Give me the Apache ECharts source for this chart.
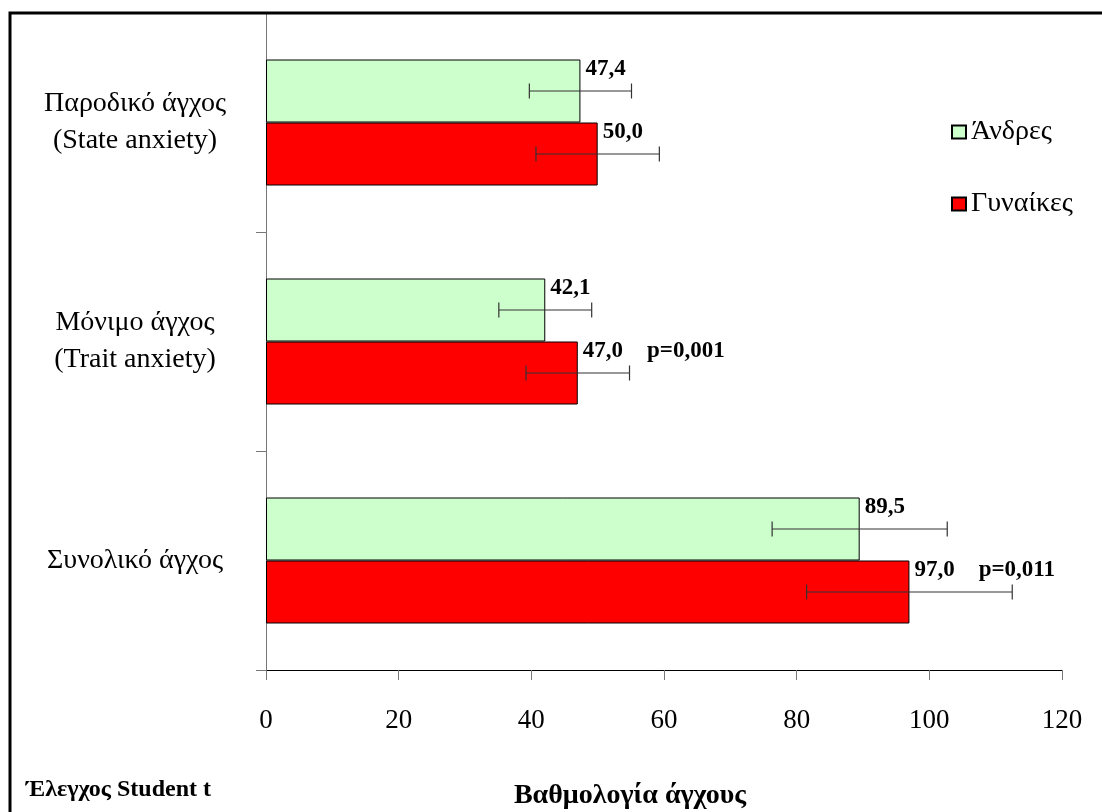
<!DOCTYPE html>
<html>
<head>
<meta charset="utf-8">
<script src="https://cdn.jsdelivr.net/npm/echarts@6/dist/echarts.min.js"></script>
<style>
  html, body { margin: 0; padding: 0; background: #fff; }
  #chart { width: 1102px; height: 812px; }
</style>
</head>
<body>
<div id="chart"></div>
<script>
// Anxiety scores by sex (means with standard deviations)
const categories = ['Παροδικό άγχος\n(State anxiety)', 'Μόνιμο άγχος\n(Trait anxiety)', 'Συνολικό άγχος'];
const seriesNames = ['Άνδρες', 'Γυναίκες'];
const menMeans = [47.4, 42.1, 89.5];
const womenMeans = [50.0, 47.0, 97.0];
const menSD = [7.7, 7.0, 13.2];
const womenSD = [9.3, 7.8, 15.5];
const pValues = ['', '0,001', '0,011'];
const xMin = 0, xMax = 120, xStep = 20;
const xAxisTitle = 'Βαθμολογία άγχους';
const testNote = 'Έλεγχος Student t';

const FONT = 'Liberation Serif';
const BAR_W = 63;

const fmt = v => v.toFixed(1).replace('.', ',');

function errorData(means, sds) {
  return means.map((m, i) => [i, m - sds[i], m + sds[i]]);
}

// Horizontal error bar with end caps, shifted onto its own bar
function errorBar(shift) {
  return function (params, api) {
    const cat = api.value(0);
    const a = api.coord([api.value(1), cat]);
    const b = api.coord([api.value(2), cat]);
    const y = a[1] + shift;
    const cap = 7.5;
    const style = { stroke: '#333', lineWidth: 1.2 };
    return {
      type: 'group',
      children: [
        { type: 'line', shape: { x1: a[0], y1: y, x2: b[0], y2: y }, style },
        { type: 'line', shape: { x1: a[0], y1: y - cap, x2: a[0], y2: y + cap }, style },
        { type: 'line', shape: { x1: b[0], y1: y - cap, x2: b[0], y2: y + cap }, style }
      ]
    };
  };
}

const chart = echarts.init(document.getElementById('chart'));

const VAL_SIZE = 23;
const labelBase = {
  show: true,
  position: 'right',
  distance: 5,
  offset: [0, -22],
  fontFamily: FONT,
  fontWeight: 'bold',
  fontSize: VAL_SIZE,
  color: '#000'
};

chart.setOption({
  backgroundColor: '#fff',
  animation: false,
  textStyle: { fontFamily: FONT },
  grid: { left: 266, right: 40, top: 13, bottom: 142, containLabel: false },
  legend: {
    data: seriesNames,
    orient: 'vertical',
    left: 946,
    top: 113,
    itemWidth: 14,
    itemHeight: 13,
    itemGap: 44,
    icon: 'rect',
    textStyle: { fontFamily: FONT, fontSize: 28, color: '#000' }
  },
  xAxis: {
    type: 'value',
    min: xMin,
    max: xMax,
    interval: xStep,
    splitLine: { show: false },
    axisLine: { show: true, lineStyle: { color: '#000', width: 1 } },
    axisTick: { show: true, length: 10, lineStyle: { color: '#777' } },
    axisLabel: { fontFamily: FONT, fontSize: 27, color: '#000', margin: 37 }
  },
  yAxis: {
    type: 'category',
    data: categories,
    inverse: true,
    axisLine: { show: true, lineStyle: { color: '#777', width: 1 } },
    axisTick: { show: true, length: 10, lineStyle: { color: '#777' } },
    axisLabel: {
      fontFamily: FONT, fontSize: 28, color: '#000',
      align: 'center', margin: 131, lineHeight: 37
    }
  },
  series: [
    {
      name: seriesNames[0],
      type: 'bar',
      data: menMeans,
      barWidth: BAR_W,
      barGap: '0%',
      itemStyle: { color: '#CCFFCC', borderColor: '#000', borderWidth: 1 },
      label: Object.assign({}, labelBase, { formatter: p => fmt(p.value) }),
      z: 2
    },
    {
      name: seriesNames[1],
      type: 'bar',
      data: womenMeans,
      barWidth: BAR_W,
      barGap: '0%',
      itemStyle: { color: '#FF0000', borderColor: '#000', borderWidth: 1 },
      label: Object.assign({}, labelBase, {
        formatter: p => {
          const pv = pValues[p.dataIndex];
          return pv ? '{v|' + fmt(p.value) + '}{p|p=' + pv + '}' : '{v|' + fmt(p.value) + '}';
        },
        rich: {
          v: { fontFamily: FONT, fontWeight: 'bold', fontSize: VAL_SIZE, color: '#000' },
          p: { fontFamily: FONT, fontWeight: 'bold', fontSize: VAL_SIZE, color: '#000', padding: [0, 0, 0, 24] }
        }
      }),
      z: 2
    },
    {
      type: 'custom',
      name: 'sd-men',
      renderItem: errorBar(-BAR_W / 2),
      data: errorData(menMeans, menSD),
      encode: { x: [1, 2], y: 0 },
      z: 5,
      silent: true
    },
    {
      type: 'custom',
      name: 'sd-women',
      renderItem: errorBar(BAR_W / 2),
      data: errorData(womenMeans, womenSD),
      encode: { x: [1, 2], y: 0 },
      z: 5,
      silent: true
    }
  ],
  graphic: [
    {
      type: 'rect',
      shape: { x: 10, y: 13, width: 1200, height: 900 },
      style: { fill: 'none', stroke: '#000', lineWidth: 3 },
      z: 100,
      silent: true
    },
    {
      type: 'text',
      left: 26,
      top: 778,
      style: { text: testNote, fontFamily: FONT, fontWeight: 'bold', fontSize: 24, fill: '#000' }
    },
    {
      type: 'text',
      x: 630,
      y: 796,
      style: {
        text: xAxisTitle, fontFamily: FONT, fontWeight: 'bold', fontSize: 28, fill: '#000',
        align: 'center', verticalAlign: 'middle'
      }
    }
  ]
});
</script>
</body>
</html>
